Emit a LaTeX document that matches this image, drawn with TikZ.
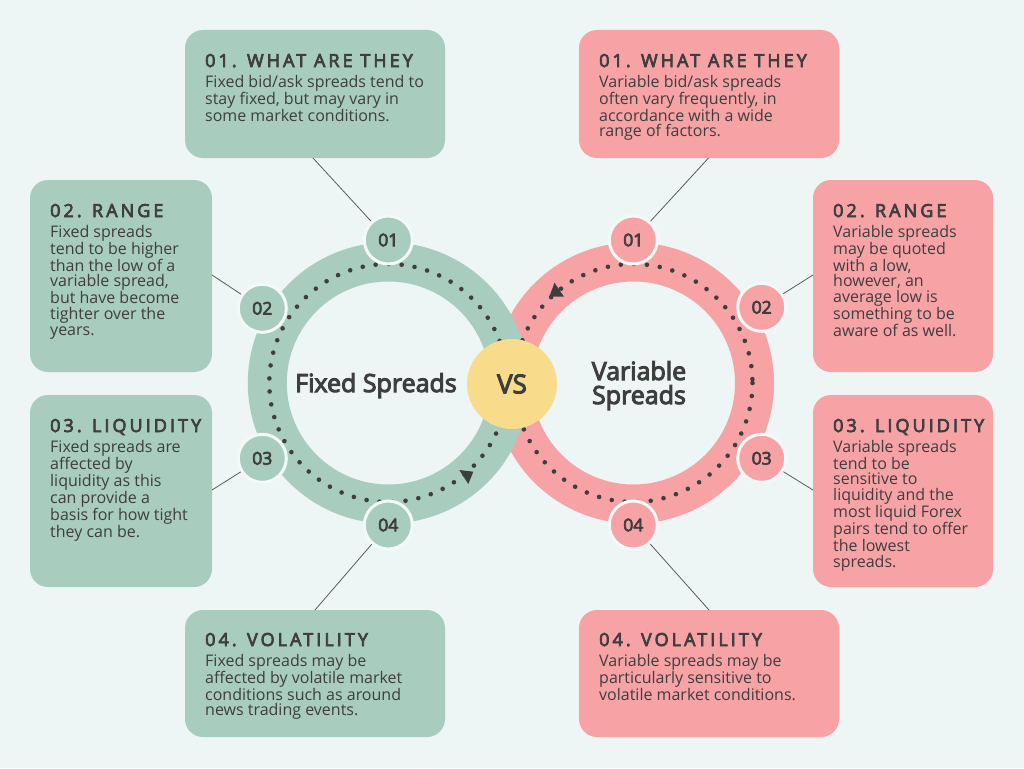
\documentclass[tikz,border=0pt]{standalone}
\usepackage{fontspec}
\setmainfont{Open Sans}[AutoFakeBold=4]
\newfontfamily\ttlfont{Open Sans}[LetterSpace=17, AutoFakeBold=4]
\usetikzlibrary{calc}
\definecolor{bg}{HTML}{EDF5F5}
\definecolor{grn}{HTML}{A8CCBE}
\definecolor{pnk}{HTML}{F7A3A6}
\definecolor{ylw}{HTML}{F9DC8B}
\definecolor{ink}{HTML}{3E3E3E}
\definecolor{rim}{HTML}{F3F8F8}
\newcommand{\ttl}[1]{{\ttlfont\bfseries\fontsize{18}{20}\selectfont #1}}
\newcommand{\tightlines}{\lineskiplimit=-10pt\relax\lineskip=0pt\relax}
\newcommand{\bodyfont}{\fontsize{16}{15.9}\selectfont\tightlines}
\newcommand{\centrefont}{\bfseries\fontsize{25}{24}\selectfont\tightlines}
\tikzset{
  card/.style={rounded corners=18pt, inner sep=0pt, outer sep=0pt},
  gcard/.style={card, fill=grn},
  pcard/.style={card, fill=pnk},
  cardtext/.style={anchor=base west, inner sep=0pt, text=ink, font=\bodyfont},
  badge/.style={circle, minimum size=48pt, inner sep=0pt, draw=rim, line width=3pt, text=ink, font=\bfseries\fontsize{17.5}{18}\selectfont},
  link/.style={draw=ink!85, line width=0.8pt},
  ringband/.style={line width=39pt},
  dots/.style={draw=ink, line width=4.6pt, line cap=round, dash pattern=on 0pt off 13.05pt},
  bigtxt/.style={text=ink, inner sep=0pt, font=\centrefont},
}
\begin{document}
\begin{tikzpicture}[x=1pt, y=-1pt]
\fill[bg] (0,0) rectangle (1024,768);
\useasboundingbox (0,0) rectangle (1024,768);

\coordinate (Lc) at (388.3,383);
\coordinate (Rc) at (633.5,383);

% cards
\node[gcard, minimum width=260pt, minimum height=128pt] (L1) at (315,94) {};
\node[gcard, minimum width=182pt, minimum height=192pt] (L2) at (121,276) {};
\node[gcard, minimum width=182pt, minimum height=192pt] (L3) at (121,491) {};
\node[gcard, minimum width=260pt, minimum height=127pt] (L4) at (315,673.5) {};
\node[pcard, minimum width=260pt, minimum height=128pt] (R1) at (709,94) {};
\node[pcard, minimum width=180pt, minimum height=192pt] (R2) at (903,276) {};
\node[pcard, minimum width=180pt, minimum height=192pt] (R3) at (903,491) {};
\node[pcard, minimum width=260pt, minimum height=127pt] (R4) at (709,673.5) {};

\node[cardtext] (L1t) at ($(L1.north west)+(20,37)$) {\parbox[t]{240pt}{\ttl{01. WHAT ARE THEY}\\[4.1pt]Fixed bid/ask spreads tend to\\stay fixed, but may vary in\\some market conditions.}};
\node[cardtext] (L2t) at ($(L2.north west)+(20,37)$) {\parbox[t]{170pt}{\ttl{02. RANGE}\\[4.1pt]Fixed spreads\\tend to be higher\\than the low of a\\variable spread,\\but have become\\tighter over the\\years.}};
\node[cardtext] (L3t) at ($(L3.north west)+(20,37)$) {\parbox[t]{170pt}{\ttl{03. LIQUIDITY}\\[4.1pt]Fixed spreads are\\affected by\\liquidity as this\\can provide a\\basis for how tight\\they can be.}};
\node[cardtext] (L4t) at ($(L4.north west)+(20,36)$) {\parbox[t]{240pt}{\ttl{04. VOLATILITY}\\[4.1pt]Fixed spreads may be\\affected by volatile market\\conditions such as around\\news trading events.}};
\node[cardtext] (R1t) at ($(R1.north west)+(20,37)$) {\parbox[t]{240pt}{\ttl{01. WHAT ARE THEY}\\[4.1pt]Variable bid/ask spreads\\often vary frequently, in\\accordance with a wide\\range of factors.}};
\node[cardtext] (R2t) at ($(R2.north west)+(20,37)$) {\parbox[t]{170pt}{\ttl{02. RANGE}\\[4.1pt]Variable spreads\\may be quoted\\with a low,\\however, an\\average low is\\something to be\\aware of as well.}};
\node[cardtext] (R3t) at ($(R3.north west)+(20,37)$) {\parbox[t]{170pt}{\ttl{03. LIQUIDITY}\\[4.1pt]Variable spreads\\tend to be\\sensitive to\\liquidity and the\\most liquid Forex\\pairs tend to offer\\the lowest\\spreads.}};
\node[cardtext] (R4t) at ($(R4.north west)+(20,36)$) {\parbox[t]{240pt}{\ttl{04. VOLATILITY}\\[4.1pt]Variable spreads may be\\particularly sensitive to\\volatile market conditions.}};

% rings
\draw[pnk, ringband] (Rc) circle (121);
\draw[grn, ringband] (Lc) circle (121);
\draw[dots] (Rc) circle (119);
\draw[dots] (Lc) circle (119);
\fill[ink] (459.3,470) -- (473.3,471.7) -- (468.3,484) -- cycle;
\fill[ink] (549.3,296.7) -- (564,296.7) -- (554.5,282.7) -- cycle;

% link anchors on the cards
\coordinate (a1) at ($(L1.south west)+(128,0)$);
\coordinate (a2) at ($(L2.north east)+(0,95)$);
\coordinate (a3) at ($(L3.north east)+(0,95)$);
\coordinate (a4) at ($(L4.north west)+(130,0)$);
\coordinate (b1) at ($(R1.south west)+(129.5,0)$);
\coordinate (b2) at ($(R2.north west)+(0,95)$);
\coordinate (b3) at ($(R3.north west)+(0,95)$);
\coordinate (b4) at ($(R4.north west)+(130,0)$);

% badges
\node[badge, fill=grn] (g1) at (388.3,240) {01};
\node[badge, fill=grn] (g2) at (262.3,308.3) {02};
\node[badge, fill=grn] (g3) at (262.3,458.3) {03};
\node[badge, fill=grn] (g4) at (388.3,525) {04};
\node[badge, fill=pnk] (p1) at (633.3,240) {01};
\node[badge, fill=pnk] (p2) at (761.7,307.3) {02};
\node[badge, fill=pnk] (p3) at (761.7,458.3) {03};
\node[badge, fill=pnk] (p4) at (633.3,525) {04};

\draw[link] (a1) -- (g1);
\draw[link] (a2) -- (g2);
\draw[link] (a3) -- (g3);
\draw[link] (a4) -- (g4);
\draw[link] (b1) -- (p1);
\draw[link] (b2) -- (p2);
\draw[link] (b3) -- (p3);
\draw[link] (b4) -- (p4);

% centre
\node[bigtxt, anchor=base] (fx) at (376,392) {Fixed Spreads};
\node[bigtxt, anchor=base] (vr) at (639,380) {\parbox[t]{150pt}{\centering Variable\\Spreads}};
\node[circle, fill=ylw, minimum size=90pt, inner sep=0pt, text=ink, font=\bfseries\fontsize{26}{24}\selectfont] (vs) at (512,384) {VS};
\end{tikzpicture}
\end{document}
